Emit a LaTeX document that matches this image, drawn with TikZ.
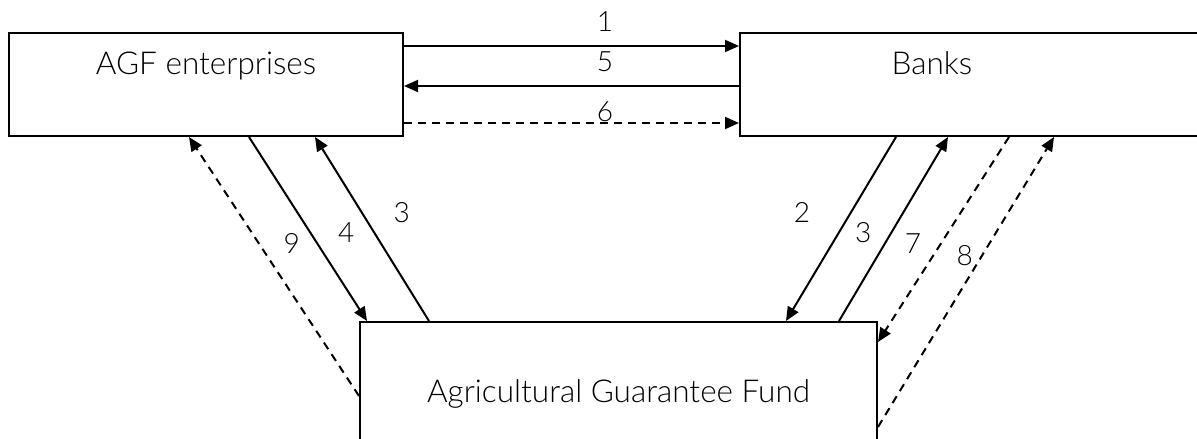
\documentclass[tikz,border=0pt]{standalone}
\usepackage{fontspec}
\setmainfont{Lato Light}
\usetikzlibrary{arrows.meta,calc}

\begin{document}
\begin{tikzpicture}[
  x=1pt, y=-1pt,
  box/.style={rectangle, draw, line width=2pt, inner sep=0pt},
  boxtext/.style={font=\fontsize{31.5}{38}\selectfont, anchor=base, inner sep=0pt},
  arrow/.style={-{Triangle[length=14pt,width=12pt]}, line width=2pt},
  dasharrow/.style={arrow, dash pattern=on 8pt off 6pt},
  num/.style={font=\fontsize{28}{34}\selectfont, inner sep=0pt}
]
  \clip (0,0) rectangle (1197,439);
  % boxes
  \node[box, minimum width=394pt, minimum height=103pt] (agf) at (206,84.5) {};
  \node[box, minimum width=560pt, minimum height=103pt] (banks) at (1020,84.5) {};
  \node[box, minimum width=517pt, minimum height=200pt] (fund) at (618.5,422) {};
  \node[boxtext] (agftext) at ([yshift=-42pt]agf.north) {AGF enterprises};
  \node[boxtext] (bankstext) at ([xshift=193pt,yshift=-42pt]banks.north west) {Banks};
  \node[boxtext] (fundtext) at ([yshift=-81pt]fund.north) {Agricultural Guarantee Fund};
  % top flows
  \draw[arrow] ([yshift=-14pt]agf.north east) -- ([yshift=-14pt]banks.north west)
    node[num, pos=0.6, anchor=base, yshift=15pt] (l1) {1};
  \draw[arrow] ([yshift=-54pt]banks.north west) -- ([yshift=-54pt]agf.north east)
    node[num, pos=0.4, anchor=base, yshift=15pt] (l5) {5};
  \draw[dasharrow] ([yshift=14pt]agf.south east) -- ([yshift=14pt]banks.south west)
    node[num, pos=0.6, anchor=base, yshift=2pt] (l6) {6};
  % enterprises <-> fund
  \draw[dasharrow] ([yshift=-75pt]fund.north west) -- ([xshift=181pt]agf.south west)
    node[num, pos=0.59, xshift=33pt] (l9) {9};
  \draw[arrow] ([xshift=241pt]agf.south west) -- ([xshift=8pt]fund.north west)
    node[num, pos=0.52, xshift=36pt] (l4) {4};
  \draw[arrow] ([xshift=70pt]fund.north west) -- ([xshift=307pt]agf.south west)
    node[num, pos=0.59, xshift=40pt] (l3a) {3};
  % banks <-> fund
  \draw[arrow] ([xshift=157pt]banks.south west) -- ([xshift=-92pt]fund.north east)
    node[num, pos=0.41, xshift=-49pt] (l2) {2};
  \draw[arrow] ([xshift=-39pt]fund.north east) -- ([xshift=209pt]banks.south west)
    node[num, pos=0.48, xshift=-28pt] (l3b) {3};
  \draw[dasharrow] ([xshift=270pt]banks.south west) -- ([yshift=-21pt]fund.north east)
    node[num, pos=0.52, xshift=-28pt] (l7) {7};
  \draw[dasharrow] ([yshift=-106pt]fund.north east) -- ([xshift=315pt]banks.south west)
    node[num, pos=0.59, xshift=-17pt] (l8) {8};
\end{tikzpicture}
\end{document}
